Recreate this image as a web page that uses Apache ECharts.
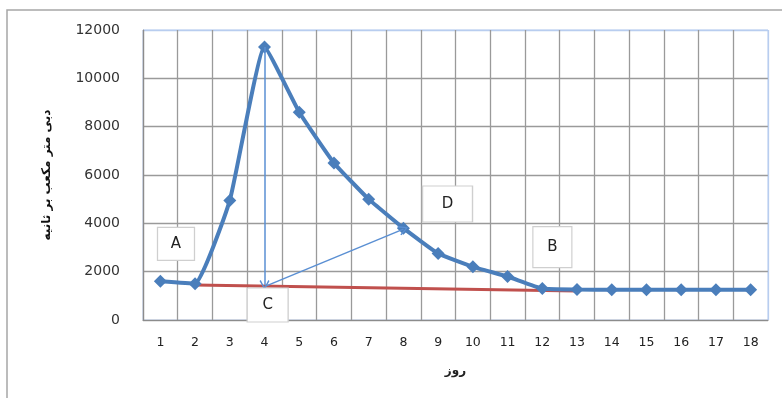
<!DOCTYPE html>
<html>
<head>
<meta charset="utf-8">
<script src="https://cdn.jsdelivr.net/npm/echarts@6/dist/echarts.min.js"></script>
<style>html,body{margin:0;padding:0;background:#fff}#c{width:782px;height:398px}</style>
</head>
<body>
<div id="c"></div>
<script>
// Data
var days = ['1','2','3','4','5','6','7','8','9','10','11','12','13','14','15','16','17','18'];
var discharge = [1600, 1500, 4950, 11300, 8600, 6500, 5000, 3800, 2750, 2200, 1800, 1300, 1260, 1250, 1250, 1250, 1250, 1250];
var baseline = [null, 1450, null, null, null, null, null, null, null, null, null, null, 1200, null, null, null, null, null];
var yTicks = [0, 2000, 4000, 6000, 8000, 10000, 12000];
// arrows ([day, discharge])
var arrowDown = [[4, 11300], [4, 1450]];
var arrowDiag = [[4, 1380], [8, 3760]];
// annotation boxes: label, x (day), y (value)
var annLabels = ['A', 'C', 'D', 'B'];
var annX = [1.45, 4.09, 9.27, 12.29];
var annY = [3150, 620, 4800, 3020];
var annW = [37, 41, 50, 39];
var annH = [33, 34, 36, 41];

var FONT = 'DejaVu Sans';
var chart = echarts.init(document.getElementById('c'), null, {renderer: 'canvas'});

var gridCol = '#9a9a9a';
var ySplitColors = yTicks.map(function (v, i) { return i === yTicks.length - 1 ? '#b8cdef' : gridCol; });
var xSplitColors = [];
for (var i = 0; i <= days.length; i++) xSplitColors.push(i === days.length ? '#b8cdef' : gridCol);

var marks = annLabels.map(function (l, i) {
  return {
    name: l, value: l, coord: [annX[i], annY[i]],
    symbol: 'rect', symbolSize: [annW[i], annH[i]],
    itemStyle: {color: '#ffffff', borderColor: '#cfcfcf', borderWidth: 1.2},
    label: {show: true, position: 'inside', formatter: l, color: '#222', fontSize: 15, fontFamily: FONT}
  };
});

var arrowSym = 'path://M5,0 L10,9 L8.8,10 L5,2.6 L1.2,10 L0,9 Z';

chart.setOption({
  animation: false,
  backgroundColor: '#ffffff',
  graphic: [{
    type: 'rect', shape: {x: 7, y: 10, width: 820, height: 420},
    style: {fill: 'none', stroke: '#a6a6a6', lineWidth: 1.5}, silent: true, z: -1
  }],
  grid: {left: 143, right: 14, top: 30, bottom: 78, show: true, borderColor: '#b8cdef', borderWidth: 1},
  xAxis: [{
    type: 'category', data: days, boundaryGap: true,
    axisLine: {onZero: false, lineStyle: {color: '#8c8c8c', width: 1.2}},
    axisTick: {show: false},
    axisLabel: {margin: 16, fontSize: 12.5, color: '#222', fontFamily: FONT},
    splitLine: {show: false},
    name: 'روز', nameLocation: 'middle', nameGap: 45,
    nameTextStyle: {fontSize: 12, color: '#222', fontWeight: 'bold', fontFamily: FONT}
  }, {
    type: 'value', min: 0.5, max: 18.5, interval: 1, position: 'bottom',
    axisLine: {show: false, onZero: false}, axisTick: {show: false}, axisLabel: {show: false},
    splitLine: {show: true, lineStyle: {color: xSplitColors, width: 1.3}}
  }],
  yAxis: {
    type: 'value', min: 0, max: 12000, interval: 2000,
    axisLine: {show: true, onZero: false, lineStyle: {color: '#8c8c8c', width: 1.2}},
    axisTick: {show: false},
    axisLabel: {margin: 23, fontSize: 14, color: '#333', fontFamily: FONT, formatter: function (v) { return String(v); }},
    splitLine: {show: true, lineStyle: {color: ySplitColors, width: 1.3}},
    name: 'دبی متر مکعب بر ثانیه', nameLocation: 'middle', nameGap: 90,
    nameTextStyle: {fontSize: 12, color: '#111', fontWeight: 'bold', fontFamily: FONT}
  },
  series: [{
    type: 'line', data: baseline, connectNulls: true, symbol: 'none',
    lineStyle: {color: '#c0504d', width: 3}, z: 2
  }, {
    type: 'line', data: discharge, smooth: 0.12,
    symbol: 'diamond', symbolSize: 13,
    itemStyle: {color: '#4a7ebb'},
    lineStyle: {color: '#4a7ebb', width: 4}, z: 3
  }, {
    type: 'line', xAxisIndex: 1, data: [], z: 4,
    markLine: {
      silent: true, symbol: ['none', arrowSym], symbolSize: [10, 10],
      label: {show: false},
      lineStyle: {color: '#5a8fd3', width: 1.5, type: 'solid'},
      data: [
        [{coord: arrowDown[0]}, {coord: arrowDown[1]}],
        [{coord: arrowDiag[0]}, {coord: arrowDiag[1]}]
      ]
    },
    markPoint: {silent: true, data: marks}
  }]
});
</script>
</body>
</html>
